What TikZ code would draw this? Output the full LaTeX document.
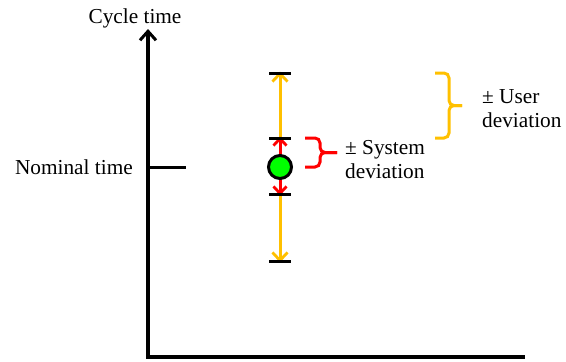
\documentclass[tikz,border=0pt]{standalone}
\usepackage{fontspec}
\setmainfont{Liberation Serif}
\usetikzlibrary{arrows.meta}
\definecolor{orng}{HTML}{FFC000}
\definecolor{rd}{HTML}{FF0000}
\definecolor{grn}{HTML}{00FF00}
\begin{document}
\begin{tikzpicture}[x=1pt,y=-1pt,
  lbl/.style={font=\fontsize{21.3}{24}\selectfont, inner sep=0pt, align=left},
  axisline/.style={line width=3.2pt, black},
  capline/.style={line width=3pt, black},
  userbar/.style={line width=3pt, orng, -{Straight Barb[length=8pt,width=15pt,line width=2.8pt]}},
  sysbar/.style={line width=3pt, rd, -{Straight Barb[length=7pt,width=13pt,line width=2.8pt]}},
  bracket/.style={line width=3pt, rounded corners=5pt}
]
\useasboundingbox (0,0) rectangle (566,362);
% axes
\coordinate (origin) at (148,357);
\coordinate (ytop) at (148,29);
\coordinate (xend) at (525,357);
\draw[axisline, -{Straight Barb[length=9pt,width=16pt,line width=3pt]}] (origin) -- (ytop);
\draw[axisline] ([xshift=-1.6pt]origin) -- (xend);
\node[lbl, anchor=base] (ylab) at (135,23) {Cycle time};
% nominal
\coordinate (nomL) at (148,167);
\coordinate (nomR) at (186,167);
\draw[line width=3pt] (nomL) -- (nomR);
\node[lbl, anchor=base east] (nomlab) at (133,174) {Nominal time};
% caps
\coordinate (ut) at (280,73);
\coordinate (st) at (280,138);
\coordinate (sb) at (280,194);
\coordinate (ub) at (280,261);
\coordinate (c) at (280,167);
% orange bars
\draw[line width=3pt, orng] (st) -- (sb);
\draw[userbar] (st) -- ([yshift=1.5pt]ut);
\draw[userbar] (sb) -- ([yshift=-1.5pt]ub);
% red arrows
\draw[sysbar] (c) -- ([yshift=1.5pt]st);
\draw[sysbar] (c) -- ([yshift=-1.5pt]sb);
% caps
\foreach \p in {ut,st,sb,ub}{
  \draw[capline] ([xshift=-11pt]\p) -- ([xshift=11pt]\p);
}
% circle
\node[circle, draw=black, line width=3pt, fill=grn, minimum size=23pt, inner sep=0pt] (dot) at (c) {};
% system bracket
\draw[bracket, rd] (305,138) -- (320,138) -- (320,152.5) -- (337,152.5);
\draw[bracket, rd] (305,167) -- (320,167) -- (320,152.5) -- (337,152.5);
\node[lbl, anchor=base west] (syslab) at (345,178) {± System\\deviation};
% user bracket
\draw[bracket, orng] (435,73) -- (449,73) -- (449,105.5) -- (462,105.5);
\draw[bracket, orng] (435,138) -- (449,138) -- (449,105.5) -- (462,105.5);
\node[lbl, anchor=base west] (userlab) at (482,127) {± User\\deviation};
\end{tikzpicture}
\end{document}
